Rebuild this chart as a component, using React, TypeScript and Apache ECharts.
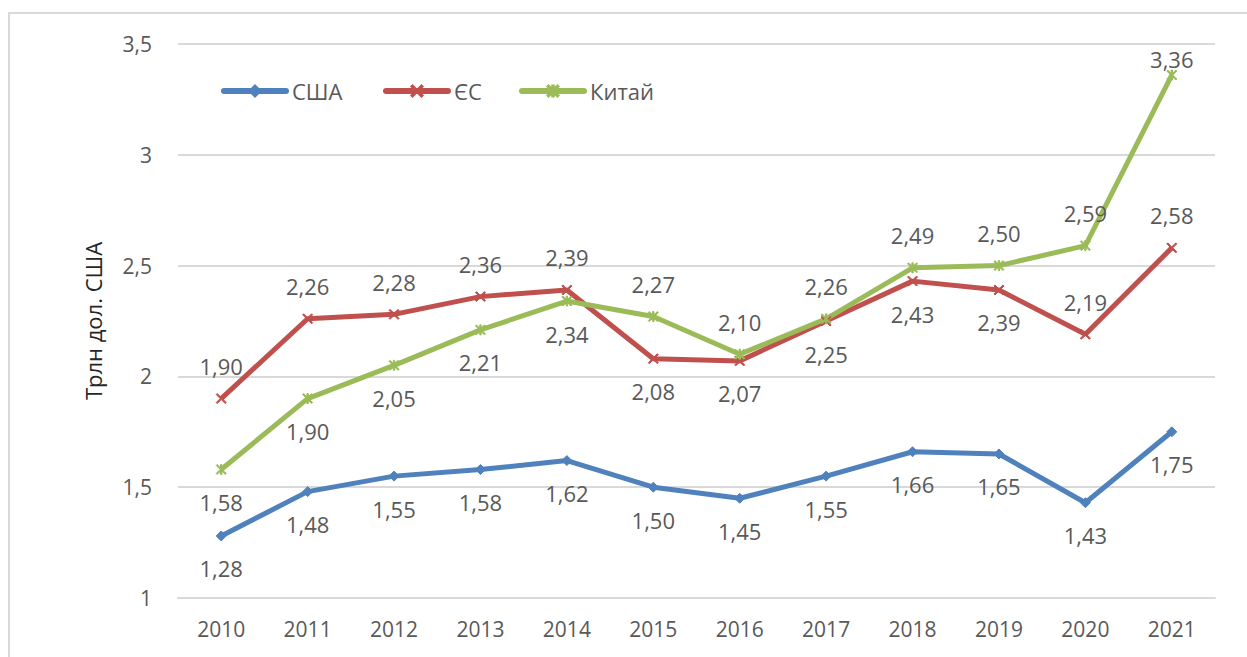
import React, { useEffect, useRef } from "react";
import * as echarts from "echarts";

const years = ["2010", "2011", "2012", "2013", "2014", "2015", "2016", "2017", "2018", "2019", "2020", "2021"];
const usa = [1.28, 1.48, 1.55, 1.58, 1.62, 1.5, 1.45, 1.55, 1.66, 1.65, 1.43, 1.75];
const eu = [1.9, 2.26, 2.28, 2.36, 2.39, 2.08, 2.07, 2.25, 2.43, 2.39, 2.19, 2.58];
const china = [1.58, 1.9, 2.05, 2.21, 2.34, 2.27, 2.1, 2.26, 2.49, 2.5, 2.59, 3.36];
const usaPos = ["bottom", "bottom", "bottom", "bottom", "bottom", "bottom", "bottom", "bottom", "bottom", "bottom", "bottom", "bottom"];
const euPos = ["top", "top", "top", "top", "top", "bottom", "bottom", "bottom", "bottom", "bottom", "top", "top"];
const chinaPos = ["bottom", "bottom", "bottom", "bottom", "bottom", "top", "top", "top", "top", "top", "top", "top"];
const names = ["США", "ЄС", "Китай"];

const FONT = "'Open Sans', 'Noto Sans', sans-serif";
const TXT = "#595959";
const xSym = "path://M0,1L1,0L5,4L9,0L10,1L6,5L10,9L9,10L5,6L1,10L0,9L4,5Z";
const starSym = "path://M0,1L1,0L5,4L9,0L10,1L6,5L10,9L9,10L5,6L1,10L0,9L4,5Z M4.3,0L5.7,0L5.7,10L4.3,10Z";

function mk(name: string, vals: number[], pos: string[], color: string, symbol: string, size: number) {
  return {
    name,
    type: "line",
    data: vals.map((v, i) => {
      const label: any = { position: pos[i] };
      if (v > 3.3) label.distance = 0;
      return { value: v, label };
    }),
    symbol,
    symbolSize: size,
    lineStyle: { color, width: 5 },
    itemStyle: { color, borderColor: color, borderWidth: 1 },
    label: {
      show: true,
      distance: 16,
      color: TXT,
      fontFamily: FONT,
      fontSize: 22,
      formatter: (p: any) => Number(p.value).toFixed(2).replace(".", ","),
    },
  };
}

export default function App() {
  const ref = useRef<HTMLDivElement>(null);
  useEffect(() => {
    const chart = echarts.init(ref.current!, null, { renderer: "svg" });
    const legendBase = {
      top: 75,
      itemWidth: 62,
      itemHeight: 14,
      itemGap: 0,
      lineStyle: { width: 6, cap: "round" },
      textStyle: { color: TXT, fontFamily: FONT, fontSize: 22, padding: [0, 0, 0, 1] },
    };
    chart.setOption({
      animation: false,
      backgroundColor: "#ffffff",
      graphic: [
        {
          type: "rect",
          shape: { x: 9, y: 13, width: 1400, height: 800 },
          style: { fill: "none", stroke: "#d9d9d9", lineWidth: 2 },
          silent: true,
        },
      ],
      legend: [
        { ...legendBase, left: 216, data: [names[0]] },
        { ...legendBase, left: 378, data: [names[1]] },
        { ...legendBase, left: 514, data: [names[2]] },
      ],
      grid: { left: 178, right: 32, top: 44, bottom: 59 },
      xAxis: {
        type: "category",
        data: years,
        boundaryGap: true,
        axisLine: { show: true, lineStyle: { color: "#d9d9d9", width: 2 } },
        axisTick: { show: false },
        axisLabel: { color: TXT, fontFamily: FONT, fontSize: 21, margin: 20 },
      },
      yAxis: {
        type: "value",
        min: 1,
        max: 3.5,
        interval: 0.5,
        name: "Трлн дол. США",
        nameLocation: "middle",
        nameGap: 74,
        nameTextStyle: { color: "#262626", fontFamily: FONT, fontSize: 22 },
        axisLine: { show: false },
        axisTick: { show: false },
        splitLine: { lineStyle: { color: "#d9d9d9", width: 2 } },
        axisLabel: {
          color: TXT,
          fontFamily: FONT,
          fontSize: 21,
          margin: 26,
          formatter: (v: number) => String(v).replace(".", ","),
        },
      },
      series: [
        mk(names[0], usa, usaPos, "#4F81BD", "diamond", 10),
        mk(names[1], eu, euPos, "#C0504D", xSym, 10),
        mk(names[2], china, chinaPos, "#9BBB59", starSym, 10),
      ],
    });
    return () => chart.dispose();
  }, []);
  return (
    <div
      ref={ref}
      style={{ position: "fixed", left: 0, top: 0, width: 1247, height: 657 }}
    />
  );
}
